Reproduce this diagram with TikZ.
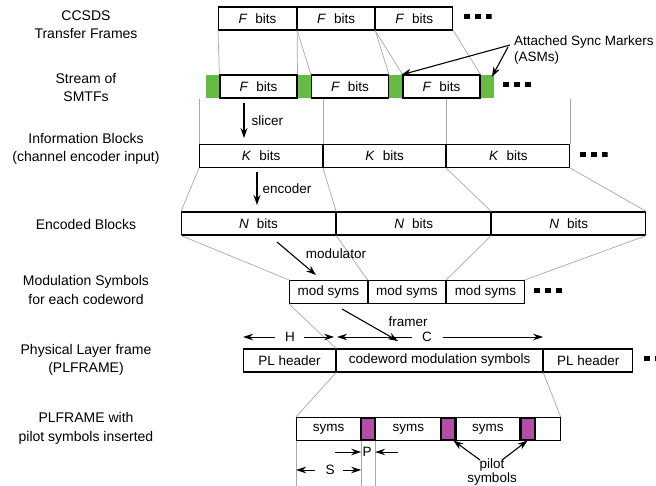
\documentclass[tikz,border=0pt]{standalone}
\usepackage{fontspec}
\setmainfont{Liberation Sans}
\usepackage{xcolor}
\definecolor{asmgreen}{HTML}{66BB44}
\definecolor{pilotpink}{HTML}{B24FA5}
\definecolor{guidegray}{HTML}{A8A8A8}
\usepackage{tikz}
\usetikzlibrary{
  arrows.meta,
  positioning
}

\newcommand{\bitsof}[1]{\textit{#1}\hspace{8pt}bits}

\begin{document}
\begin{tikzpicture}[
  x=1pt, y=-1pt,
  rowlabel/.style={font=\fontsize{14}{18.5}\selectfont, align=center},
  blk/.style={draw, line width=1.1pt, minimum height=23pt, inner sep=0pt, font=\fontsize{13.5}{16}\selectfont},
  asm/.style={fill=asmgreen, minimum width=13pt, minimum height=23pt, inner sep=0pt},
  pilot/.style={draw, line width=1.1pt, fill=pilotpink, minimum width=13pt, minimum height=22pt, inner sep=0pt},
  guide/.style={guidegray, line width=0.7pt},
  arr/.style={-{Stealth[length=10pt, width=7pt]}, line width=1.1pt},
  dim/.style={-{Stealth[length=10pt, width=6.5pt]}, line width=0.9pt},
  note/.style={font=\fontsize{13.5}{16}\selectfont, inner sep=1pt},
  more/.style={minimum width=28pt, minimum height=5pt, inner sep=0pt,
    path picture={\foreach \k in {0,1,2}{\fill ([xshift=\k*11pt]path picture bounding box.south west) rectangle ++(6pt,5pt);}}},
]
\useasboundingbox (0,0) rectangle (656,485);

% Labels links
\node[rowlabel] (lab1) at (86,24.5) {CCSDS\\Transfer Frames};
\node[rowlabel] (lab2) at (86,87.5) {Stream of\\SMTFs};
\node[rowlabel] (lab3) at (86,149) {Information Blocks\\(channel encoder input)};
\node[rowlabel] (lab4) at (86,224) {Encoded Blocks};
\node[rowlabel] (lab5) at (86,290) {Modulation Symbols\\for each codeword};
\node[rowlabel] (lab6) at (86,360) {Physical Layer frame\\(PLFRAME)};
\node[rowlabel] (lab7) at (86,428.5) {PLFRAME with\\pilot symbols inserted};

% transfer frames
\node[blk, minimum width=78pt, anchor=west] (f1) at (218,18.5) {\bitsof{F}};
\node[blk, minimum width=77pt, right=0pt of f1] (f2) {\bitsof{F}};
\node[blk, minimum width=77pt, right=0pt of f2] (f3) {\bitsof{F}};
\node[more, right=10pt of f3, yshift=2pt] (fmore) {};

% SMTFs
\node[asm, anchor=west] (a1) at (206,86.5) {};
\node[blk, minimum width=77pt, right=0pt of a1] (s1) {\bitsof{F}};
\node[asm, right=0pt of s1] (a2) {};
\node[blk, minimum width=77pt, right=0pt of a2] (s2) {\bitsof{F}};
\node[asm, right=0pt of s2] (a3) {};
\node[blk, minimum width=77pt, right=0pt of a3] (s3) {\bitsof{F}};
\node[asm, right=0pt of s3] (a4) {};
\node[more, right=9pt of a4, yshift=2pt] (smore) {};

\draw[guide] (f1.south west) -- (s1.north west);
\draw[guide] (f1.south east) -- (s1.north east);
\draw[guide] (f2.south west) -- (s2.north west);
\draw[guide] (f2.south east) -- (s2.north east);
\draw[guide] (f3.south west) -- (s3.north west);
\draw[guide] (f3.south east) -- (s3.north east);

\node[note, align=left, anchor=west] (asmnote) at (513,50) {Attached Sync Markers\\(ASMs)};
\coordinate (asm0) at (510,45);
\coordinate (asm1) at (508,47);
\draw[arr] (asm0) -- ([xshift=-1pt]a3.north east);
\draw[arr] (asm1) -- ([xshift=-2pt, yshift=-2pt]a4.north east);

% information blocks
\node[blk, minimum width=123pt, anchor=west] (k1) at (199,156) {\bitsof{K}};
\node[blk, minimum width=122pt, right=0pt of k1] (k2) {\bitsof{K}};
\node[blk, minimum width=123pt, right=0pt of k2] (k3) {\bitsof{K}};
\node[more, right=9pt of k3, yshift=2pt] (kmore) {};

\draw[guide] (k1.north west |- s1.south) -- (k1.north west);
\draw[guide] (k1.north east |- s1.south) -- (k1.north east);
\draw[guide] (k2.north east |- s1.south) -- (k2.north east);
\draw[guide] (k3.north east |- s1.south) -- (k3.north east);

\coordinate (sl0) at (244,103);
\coordinate (sl1) at (244,138);
\draw[arr] (sl0) -- node[note, right=6pt] (slicer) {slicer} (sl1);

% encoded blocks
\node[blk, minimum width=154pt, anchor=west] (n1) at (181,223.5) {\bitsof{N}};
\node[blk, minimum width=154pt, right=0pt of n1] (n2) {\bitsof{N}};
\node[blk, minimum width=154pt, right=0pt of n2] (n3) {\bitsof{N}};
\node[more, right=9pt of n3, yshift=2pt] (nmore) {};

\draw[guide] (k1.south west) -- (n1.north west);
\draw[guide] (k1.south east) -- (n1.north east);
\draw[guide] (k2.south east) -- (n2.north east);
\draw[guide] (k3.south east) -- (n3.north east);

\coordinate (en0) at (257,172);
\coordinate (en1) at (257,205);
\draw[arr] (en0) -- node[note, right=4pt] (encoder) {encoder} (en1);

% modulation symbols
\node[blk, minimum width=77.5pt, anchor=west] (m1) at (289,292) {mod syms};
\node[blk, minimum width=77.5pt, right=0pt of m1] (m2) {mod syms};
\node[blk, minimum width=77.5pt, right=0pt of m2] (m3) {mod syms};
\node[more, right=9pt of m3, yshift=2pt] (mmore) {};

\draw[guide] (n1.south west) -- (m1.north west);
\draw[guide] (n1.south east) -- (m1.north east);
\draw[guide] (n2.south east) -- (m2.north east);
\draw[guide] (n3.south east) -- (m3.north east);

\coordinate (mo0) at (277,242);
\coordinate (mo1) at (316,275);
\draw[arr] (mo0) -- (mo1);
\node[note] (modulator) at (336,254) {modulator};

% PLFRAME
\node[blk, minimum width=92pt, anchor=west] (plh1) at (243,360.5) {PL header};
\node[blk, minimum width=206pt, right=0pt of plh1] (cw) {codeword modulation symbols};
\node[blk, minimum width=89pt, right=0pt of cw] (plh2) {PL header};
\node[more, right=10pt of plh2, yshift=2pt] (pmore) {};

\draw[guide] (m1.south west) -- (cw.north west);

\coordinate (fr0) at (342,309);
\coordinate (fr1) at (398,341);
\draw[arr] (fr0) -- (fr1);
\node[note] (framer) at (408,322) {framer};

\node[note] (hlab) at (290,337) {H};
\draw[dim] ([xshift=-9pt]hlab.west) -- (hlab -| plh1.west);
\draw[dim] ([xshift=8pt]hlab.east) -- ([xshift=-2pt]hlab -| cw.west);
\node[note] (clab) at (427,337) {C};
\draw[dim] ([xshift=-9pt]clab.west) -- ([xshift=1pt]clab -| cw.west);
\draw[dim] ([xshift=10pt]clab.east) -- (clab -| cw.east);

% pilots inserted
\node[blk, minimum width=64pt, anchor=west] (y1) at (296,429) {syms};
\node[pilot, right=0pt of y1] (p1) {};
\node[blk, minimum width=65pt, right=0pt of p1] (y2) {syms};
\node[pilot, right=0pt of y2] (p2) {};
\node[blk, minimum width=64pt, right=0pt of p2] (y3) {syms};
\node[pilot, right=0pt of y3] (p3) {};
\node[blk, minimum width=25pt, right=0pt of p3] (y4) {};

\draw[guide] (cw.south west) -- (y1.north west);
\draw[guide] (cw.south east) -- (y4.north east);

\draw[guide] (y1.south west) -- ++(0,50);
\draw[guide] (y1.south east) -- ++(0,50);
\draw[guide] (p1.south east) -- ++(0,50);

\node[note] (slab) at (330,470) {S};
\draw[dim] ([xshift=-9pt]slab.west) -- (slab -| y1.west);
\draw[dim] ([xshift=7pt]slab.east) -- (slab -| y1.east);
\node[note] (plab) at (367,452) {P};
\draw[dim] (plab -| 335,0) -- (plab -| p1.west);
\draw[dim] (plab -| 398,0) -- (plab -| p1.east);

\node[note, align=center, anchor=north, font=\fontsize{13.5}{13.5}\selectfont] (pilotnote) at (492,458) {pilot\\symbols};
\draw[arr] ([xshift=-12pt, yshift=-2pt]pilotnote.north) -- ([xshift=-2pt]p2.south east);
\draw[arr] ([xshift=10pt, yshift=-2pt]pilotnote.north) -- (p3.south);

\end{tikzpicture}
\end{document}
